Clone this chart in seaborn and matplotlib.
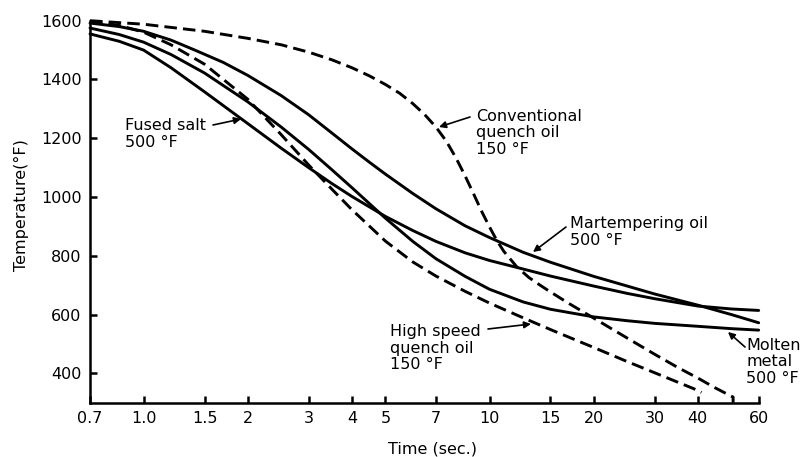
import numpy as np
import pandas as pd
import matplotlib
matplotlib.use("Agg")
import matplotlib.pyplot as plt
import seaborn as sns

# ---- data ----
conv_t = [0.7, 1.0, 1.5, 2.0, 2.5, 3.0, 3.5, 4.0, 4.5, 5.0, 5.5, 6.0, 6.5, 7.0, 7.5, 8.0, 8.5,
          9.0, 9.5, 10, 10.5, 11, 12, 13, 14, 15, 17, 20, 25, 30, 35, 40, 45, 50.6, 50.6]
conv_T = [1600, 1588, 1564, 1540, 1518, 1493, 1467, 1440, 1412, 1383, 1353, 1318, 1280, 1238,
          1190, 1133, 1072, 1010, 950, 898, 852, 815, 762, 726, 700, 677, 637, 588, 520, 465,
          420, 384, 350, 319, 300]

hs_t = [0.7, 0.85, 1.0, 1.2, 1.5, 2.0, 2.5, 3.0, 3.5, 4.0, 5.0, 6.0, 7.0, 8.5, 10, 12.5, 15,
        20, 25, 30, 40, 41]
hs_T = [1598, 1584, 1561, 1518, 1452, 1333, 1212, 1109, 1027, 957, 850, 779, 731, 679, 639,
        589, 549, 488, 440, 402, 342, 335]

mart_t = [0.7, 0.85, 1.0, 1.2, 1.4, 1.7, 2.0, 2.5, 3.0, 3.5, 4.0, 4.5, 5.0, 6.0, 7.0, 8.5, 10,
          12.5, 15, 20, 25, 30, 40, 50, 60]
mart_T = [1592, 1580, 1564, 1534, 1501, 1458, 1414, 1345, 1280, 1218, 1164, 1118, 1078, 1012,
          960, 902, 862, 812, 778, 730, 697, 670, 632, 600, 572]

salt_t = [0.7, 0.85, 1.0, 1.2, 1.5, 2.0, 2.5, 3.0, 3.5, 4.0, 5.0, 6.0, 7.0, 8.5, 10, 12.5,
          15, 20, 25, 30, 40, 50, 60]
salt_T = [1555, 1530, 1500, 1440, 1358, 1250, 1166, 1100, 1046, 1002, 934, 886, 849, 810,
          784, 755, 731, 697, 672, 654, 629, 619, 614]

molten_t = [0.7, 0.85, 1.0, 1.2, 1.5, 2.0, 2.5, 3.0, 3.5, 4.0, 5.0, 6.0, 7.0, 8.5, 10, 12.5,
            15, 20, 25, 30, 40, 50, 60]
molten_T = [1575, 1553, 1527, 1485, 1422, 1324, 1238, 1162, 1093, 1032, 928, 849, 790, 730,
            686, 643, 618, 592, 579, 570, 560, 552, 547]

xticks = [0.7, 1.0, 1.5, 2, 3, 4, 5, 7, 10, 15, 20, 30, 40, 60]
xtick_labels = ["0.7", "1.0", "1.5", "2", "3", "4", "5", "7", "10", "15", "20", "30", "40", "60"]
yticks = [400, 600, 800, 1000, 1200, 1400, 1600]

sns.set_style("ticks")
plt.rcParams['font.family'] = ['DejaVu Sans']
plt.rcParams['text.color'] = 'black'
plt.rcParams['axes.labelcolor'] = 'black'

fig = plt.figure(figsize=(8.05, 4.57), dpi=100)
ax = fig.add_axes([90 / 805, 54.3 / 457, 668.7 / 805, 382.0 / 457])

series = [
    (conv_t, conv_T, True),
    (hs_t, hs_T, True),
    (mart_t, mart_T, False),
    (salt_t, salt_T, False),
    (molten_t, molten_T, False),
]
for t, T, dashed in series:
    df = pd.DataFrame({"t": t, "T": T})
    sns.lineplot(data=df, x="t", y="T", ax=ax, color="black", lw=2.1,
                 sort=False, estimator=None)
    line = ax.lines[-1]
    line.set_clip_on(False)
    line.set_solid_joinstyle("round")
    line.set_dash_joinstyle("round")
    if dashed:
        line.set_dashes((4.3, 2.1))

ax.set_xscale("log")
ax.set_xlim(0.7, 60)
ax.set_ylim(300, 1600)
ax.set_xticks(xticks)
ax.set_xticklabels(xtick_labels)
ax.xaxis.set_minor_locator(matplotlib.ticker.NullLocator())
ax.set_yticks(yticks)
fs = 11.5
ax.tick_params(direction="in", length=5, width=1.8, labelsize=fs, colors="black", pad=6)
sns.despine(ax=ax)
for s in ("left", "bottom"):
    ax.spines[s].set_linewidth(1.8)
    ax.spines[s].set_color("black")

ax.set_xlabel("Time (sec.)", fontsize=fs, color="black")
ax.xaxis.set_label_coords((432 - 90) / 668.7, -(441 - 402.7) / 382.0)
ax.set_ylabel("Temperature(°F)", fontsize=fs, color="black")
ax.yaxis.set_label_coords(-(90 - 29) / 668.7, (402.7 - 205) / 382.0)

arrow = dict(arrowstyle="-|>", color="black", lw=1.2, mutation_scale=10, shrinkA=0, shrinkB=0)

def px(x, y):
    return (x / 805, 1 - y / 457)

def label(x, y, s):
    fig.text(x / 805, 1 - y / 457, s, fontsize=fs, va="center", ha="left",
             linespacing=1.1, color="black")

ax.annotate("", xy=px(241, 119), xytext=px(213, 125), xycoords="figure fraction",
            textcoords="figure fraction", arrowprops=arrow)
label(125, 134, "Fused salt\n500 °F")

ax.annotate("", xy=px(439, 127), xytext=px(470, 117), xycoords="figure fraction",
            textcoords="figure fraction", arrowprops=arrow)
label(476, 133, "Conventional\nquench oil\n150 °F")

ax.annotate("", xy=px(533, 252), xytext=px(566, 227), xycoords="figure fraction",
            textcoords="figure fraction", arrowprops=arrow)
label(570, 232, "Martempering oil\n500 °F")

ax.annotate("", xy=px(531, 324), xytext=px(488, 329), xycoords="figure fraction",
            textcoords="figure fraction", arrowprops=arrow)
label(390, 348, "High speed\nquench oil\n150 °F")

ax.annotate("", xy=px(728, 332), xytext=px(745, 347), xycoords="figure fraction",
            textcoords="figure fraction", arrowprops=arrow)
label(746, 362, "Molten\nmetal\n500 °F")

fig.savefig("out.png", dpi=100)
